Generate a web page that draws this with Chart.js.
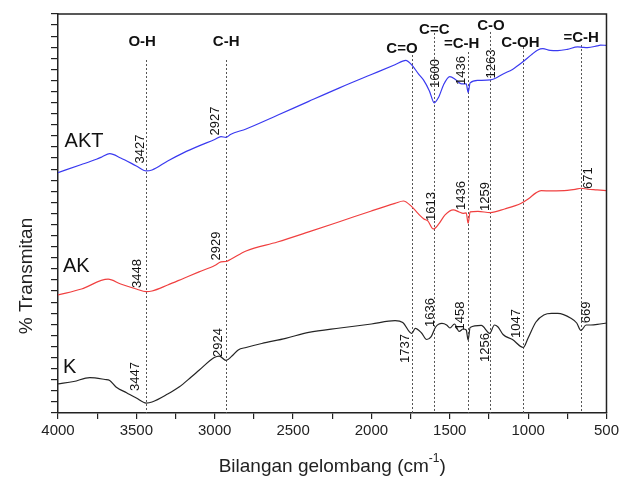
<!DOCTYPE html>
<html>
<head>
<meta charset="utf-8">
<script src="https://cdn.jsdelivr.net/npm/chart.js@4.4.0/dist/chart.umd.min.js"></script>
<style>
  html, body { margin: 0; padding: 0; background: #fff; }
  #wrap { width: 622px; height: 477px; position: relative; }
</style>
</head>
<body>
<div id="wrap"><canvas id="chart"></canvas></div>
<script>
// FTIR spectra (transmittance in arbitrary offset units)
var aktWave = [4000, 3850, 3755, 3720, 3670, 3600, 3500, 3437, 3400, 3300, 3200, 3100, 3000, 2960, 2928, 2900, 2800, 2600, 2400, 2200, 2000, 1850, 1781, 1743, 1700, 1668, 1630, 1599, 1570, 1540, 1500, 1460, 1425, 1395, 1383, 1370, 1320, 1241, 1150, 1100, 1031, 980, 938, 906, 860, 811, 750, 684, 650, 621, 560, 538, 500];
var aktT = [21.69, 22.42, 22.90, 23.10, 23.40, 23.01, 22.29, 21.84, 21.93, 22.74, 23.47, 24.10, 24.68, 24.94, 24.86, 25.13, 25.63, 26.86, 28.12, 29.36, 30.54, 31.42, 31.81, 31.41, 30.60, 30.05, 29.06, 27.99, 28.52, 29.60, 30.35, 30.05, 29.69, 29.69, 28.93, 29.78, 30.01, 30.05, 30.66, 31.00, 31.71, 32.31, 32.76, 32.88, 32.72, 32.70, 32.81, 33.03, 32.99, 32.97, 33.12, 33.19, 33.17];

var akWave = [4000, 3850, 3680, 3600, 3500, 3437, 3400, 3300, 3200, 3100, 3000, 2960, 2928, 2900, 2800, 2600, 2400, 2200, 2000, 1850, 1796, 1743, 1700, 1665, 1640, 1605, 1570, 1530, 1478, 1440, 1415, 1395, 1383, 1370, 1320, 1241, 1150, 1044, 1000, 950, 917, 850, 750, 700, 663, 620, 560, 500];
var akT = [10.65, 11.19, 12.07, 11.64, 11.19, 10.95, 11.01, 11.55, 12.14, 12.73, 13.31, 13.63, 13.67, 13.85, 14.62, 15.43, 16.34, 17.28, 18.23, 18.91, 19.13, 18.62, 17.96, 17.51, 17.33, 16.61, 17.06, 17.87, 18.32, 18.14, 18.02, 18.05, 17.12, 18.14, 18.19, 18.08, 18.41, 18.93, 19.31, 19.86, 20.06, 20.04, 20.08, 20.17, 20.28, 20.19, 20.13, 20.06];

var kWave = [4000, 3900, 3797, 3700, 3670, 3630, 3560, 3500, 3437, 3400, 3300, 3225, 3150, 3098, 3003, 2971, 2928, 2890, 2850, 2800, 2700, 2547, 2400, 2200, 2000, 1849, 1800, 1743, 1720, 1680, 1647, 1620, 1590, 1550, 1520, 1499, 1470, 1440, 1415, 1395, 1383, 1370, 1299, 1245, 1215, 1192, 1160, 1100, 1031, 1000, 950, 900, 850, 811, 727, 690, 663, 630, 600, 557, 500];
var kT = [2.62, 2.84, 3.20, 3.02, 2.93, 2.35, 1.81, 1.35, 0.90, 0.99, 1.71, 2.37, 3.25, 3.88, 5.01, 5.14, 4.74, 5.14, 5.69, 5.91, 6.27, 6.74, 7.27, 7.67, 8.03, 8.33, 8.17, 7.18, 7.63, 7.22, 6.63, 6.86, 7.76, 8.08, 7.94, 7.67, 8.03, 7.36, 7.58, 7.49, 6.59, 7.72, 7.90, 7.19, 7.94, 7.76, 7.08, 6.63, 5.91, 6.77, 8.21, 8.84, 8.98, 8.98, 8.55, 8.12, 7.45, 7.94, 7.94, 7.99, 8.12];

var seriesNames = ["AKT", "AK", "K"];
var seriesColors = ["#3a3af0", "#f04040", "#252525"];

// x axis ticks: labelled every 500, minor marks every 250
var xTickValues = [4000, 3750, 3500, 3250, 3000, 2750, 2500, 2250, 2000, 1750, 1500, 1250, 1000, 750, 500];

// dotted band markers and their functional group labels
var bandWave = [3437, 2928, 1743, 1599, 1383, 1241, 1031, 660];
var bandTop = [31.85, 31.85, 32.3, 34.29, 32.57, 34.38, 33.02, 33.2];
var groupText = ["O-H", "C-H", "C=O", "C=C", "=C-H", "C-O", "C-OH", "=C-H"];
var groupWave = [3463, 2927, 1805, 1599, 1424, 1237, 1049, 662];
var groupY = [33.47, 33.47, 32.84, 34.56, 33.27, 34.92, 33.36, 33.81];

// peak numbers, written vertically next to each curve
var peakText = ["3427", "2927", "1600", "1436", "1263",
                "3448", "2929", "1613", "1436", "1259", "671",
                "3447", "2924", "1737", "1636", "1458", "1256", "1047", "669"];
var peakWave = [3475, 2996, 1593, 1427, 1234,
                3495, 2987, 1615, 1427, 1275, 614,
                3505, 2977, 1783, 1624, 1431, 1272, 1075, 630];
var peakY = [23.82, 26.35, 30.63, 30.90, 31.49,
             12.59, 15.07, 18.63, 19.62, 19.53, 21.20,
             3.29, 6.36, 5.82, 9.07, 8.75, 5.91, 8.08, 9.07];

// curve names at the left
var nameWave = [3958, 3968, 3968];
var nameY = [24.54, 13.26, 4.15];

function toPoints(w, t) {
  return w.map(function (v, i) { return { x: v, y: t[i] }; });
}

var allWave = [aktWave, akWave, kWave];
var allT = [aktT, akT, kT];

const annotate = {
  id: "annotate",
  beforeDatasetsDraw(chart) {
    const ctx = chart.ctx;
    const x = chart.scales.x, y = chart.scales.y;
    ctx.save();
    ctx.strokeStyle = "#555";
    ctx.lineWidth = 1;
    ctx.setLineDash([2, 2]);
    for (let i = 0; i < bandWave.length; i++) {
      let px = Math.round(x.getPixelForValue(bandWave[i])) + 0.5;
      ctx.beginPath();
      ctx.moveTo(px, y.getPixelForValue(bandTop[i]));
      ctx.lineTo(px, y.getPixelForValue(0));
      ctx.stroke();
    }
    ctx.restore();
  },
  afterDatasetsDraw(chart) {
    const ctx = chart.ctx;
    const x = chart.scales.x, y = chart.scales.y;
    const area = chart.chartArea;
    ctx.save();
    ctx.fillStyle = "#111";
    ctx.textAlign = "center";
    ctx.textBaseline = "middle";

    ctx.font = "bold 15px 'Liberation Sans', Arial, sans-serif";
    for (let i = 0; i < groupText.length; i++) {
      ctx.fillText(groupText[i], x.getPixelForValue(groupWave[i]), y.getPixelForValue(groupY[i]));
    }

    ctx.font = "13px 'Liberation Sans', Arial, sans-serif";
    for (let i = 0; i < peakText.length; i++) {
      ctx.save();
      ctx.translate(x.getPixelForValue(peakWave[i]), y.getPixelForValue(peakY[i]));
      ctx.rotate(-Math.PI / 2);
      ctx.fillText(peakText[i], 0, 0);
      ctx.restore();
    }

    ctx.font = "20px 'Liberation Sans', Arial, sans-serif";
    ctx.textAlign = "left";
    for (let i = 0; i < seriesNames.length; i++) {
      ctx.fillText(seriesNames[i], x.getPixelForValue(nameWave[i]), y.getPixelForValue(nameY[i]));
    }

    // frame top and right
    ctx.strokeStyle = "#222";
    ctx.lineWidth = 1.5;
    ctx.beginPath();
    ctx.moveTo(area.left, area.top);
    ctx.lineTo(area.right, area.top);
    ctx.lineTo(area.right, area.bottom);
    ctx.stroke();

    // axis titles
    ctx.fillStyle = "#222";
    ctx.font = "19px 'Liberation Sans', Arial, sans-serif";
    ctx.textAlign = "center";
    ctx.save();
    ctx.translate(27, 276);
    ctx.rotate(-Math.PI / 2);
    ctx.fillText("% Transmitan", 0, 0);
    ctx.restore();

    let main = "Bilangan gelombang (cm";
    let sup = "-1";
    let tail = ")";
    ctx.font = "19px 'Liberation Sans', Arial, sans-serif";
    let w1 = ctx.measureText(main).width, w3 = ctx.measureText(tail).width;
    ctx.font = "12px 'Liberation Sans', Arial, sans-serif";
    let w2 = ctx.measureText(sup).width;
    let start = (area.left + area.right) / 2 - (w1 + w2 + w3) / 2;
    let ty = 467;
    ctx.textAlign = "left";
    ctx.font = "19px 'Liberation Sans', Arial, sans-serif";
    ctx.fillText(main, start, ty);
    ctx.font = "12px 'Liberation Sans', Arial, sans-serif";
    ctx.fillText(sup, start + w1, ty - 8);
    ctx.font = "19px 'Liberation Sans', Arial, sans-serif";
    ctx.fillText(tail, start + w1 + w2, ty);
    ctx.restore();
  }
};

const config = {
  type: "line",
  data: {
    datasets: seriesNames.map(function (name, i) {
      return {
        label: name,
        data: toPoints(allWave[i], allT[i]),
        borderColor: seriesColors[i],
        borderWidth: 1.2,
        pointRadius: 0,
        fill: false,
        cubicInterpolationMode: "monotone",
      };
    }),
  },
  options: {
    responsive: true,
    maintainAspectRatio: false,
    animation: false,
    layout: { padding: { left: 0, right: 13, top: 14, bottom: 0 } },
    plugins: {
      legend: { display: false },
      tooltip: { enabled: false },
    },
    scales: {
      x: {
        type: "linear",
        reverse: true,
        min: 500,
        max: 4000,
        afterBuildTicks: function (scale) {
          scale.ticks = xTickValues.map(function (v) { return { value: v }; });
        },
        afterFit: function (scale) { scale.height = 64; },
        ticks: {
          autoSkip: false,
          maxRotation: 0,
          color: "#222",
          padding: 3,
          font: { size: 15, family: "'Liberation Sans', Arial, sans-serif" },
          callback: function (value) {
            return value % 500 === 0 ? String(value) : "";
          },
        },
        grid: {
          drawOnChartArea: false,
          tickLength: 6,
          tickColor: "#222",
          lineWidth: 1.2,
        },
        border: { display: true, color: "#222", width: 1.5 },
      },
      y: {
        min: 0,
        max: 36,
        afterFit: function (scale) { scale.width = 58; },
        ticks: { display: false, stepSize: 1 },
        grid: {
          drawOnChartArea: false,
          tickLength: 7,
          tickColor: "#222",
          lineWidth: 1.2,
        },
        border: { display: true, color: "#222", width: 1.5 },
      },
    },
  },
  plugins: [annotate],
};

const chart = new Chart(document.getElementById("chart"), config);
</script>
</body>
</html>
